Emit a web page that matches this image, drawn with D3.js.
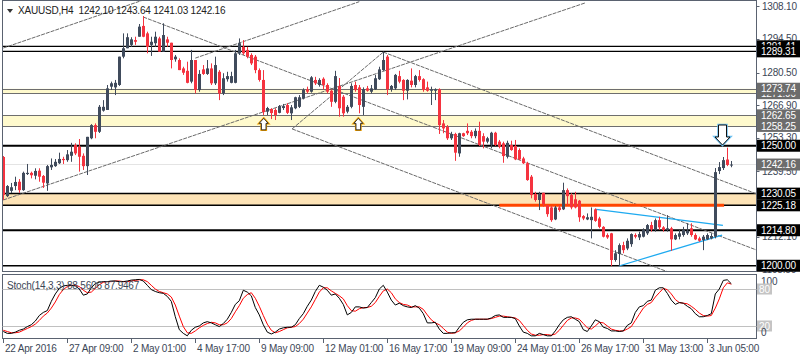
<!DOCTYPE html>
<html><head><meta charset="utf-8">
<script src="https://cdn.jsdelivr.net/npm/d3@7"></script>
<style>
body{margin:0;background:#fff}
svg{display:block}
text{font-family:"Liberation Sans",Arial,sans-serif;white-space:pre}
</style>
</head><body>
<svg id="chart" width="800" height="360"></svg>
<script>
// ---------------- DATA ----------------
const symbolTitle = "XAUUSD,H4  1242.10 1243.64 1241.03 1242.16";
const stochTitle = "Stoch(14,3,3) 88.5606 87.9467";

const openP = [1245.3,1229.0,1231.2,1233.2,1235.0,1231.5,1238.2,1238.7,1237.5,1239.6,
1237.4,1234.3,1241.0,1241.5,1242.7,1244.5,1244.0,1245.8,1250.3,1249.6,
1245.8,1241.5,1253.1,1258.6,1255.8,1264.6,1264.9,1274.6,1274.3,1275.3,
1287.1,1290.6,1292.0,1294.0,1295.4,1299.9,1296.8,1292.0,1292.7,1294.7,
1289.2,1294.3,1292.9,1286.0,1285.7,1282.2,1281.2,1276.7,1285.7,1273.2,
1281.8,1279.9,1282.2,1276.0,1280.8,1271.8,1277.7,1276.2,1276.2,1288.5,
1291.2,1289.9,1287.8,1287.1,1281.5,1277.4,1264.2,1265.3,1264.9,1263.7,
1265.7,1266.95,1263.5,1265.6,1266.2,1269.7,1273.5,1272.5,1277.4,1275.3,
1277.9,1275.3,1272.9,1268.3,1274.9,1270.4,1264.2,1266.2,1275.3,1274.3,
1266.2,1273.9,1272.5,1273.5,1277.7,1281.5,1287.1,1273.5,1273.9,1279.0,
1277.4,1272.9,1277.1,1275.3,1279.0,1277.7,1274.3,1272.9,1272.9,1273.5,
1259.3,1257.9,1253.1,1254.9,1246.8,1255.2,1256.2,1255.8,1254.0,1256.2,
1254.0,1251.7,1250.3,1255.4,1251.7,1251.0,1245.4,1250.3,1249.9,1248.2,
1244.7,1242.7,1237.1,1229.9,1227.4,1230.4,1225.3,1224.3,1219.3,1224.3,
1223.5,1231.5,1229.45,1227.7,1227.1,1220.7,1219.3,1219.0,1223.5,1219.7,
1216.2,1212.8,1213.5,1202.4,1204.9,1208.6,1207.2,1209.0,1212.8,1211.8,
1212.1,1213.5,1216.95,1214.9,1219.0,1216.0,1214.9,1215.6,1211.0,1212.1,
1212.8,1213.5,1215.6,1212.8,1211.4,1210.7,1211.0,1211.4,1212.1,1239.45,
1240.7,1244.25,1242.10];

const highP = [1245.7,1233.6,1234.5,1237.1,1236.1,1239.2,1242.4,1239.2,1240.6,1240.6,
1237.8,1242.0,1244.7,1244.45,1247.1,1245.4,1248.2,1251.2,1251.0,1252.8,
1246.8,1253.7,1259.0,1259.3,1266.95,1269.0,1275.3,1276.7,1277.4,1287.1,
1296.8,1296.8,1295.2,1295.4,1300.7,1304.0,1297.5,1295.4,1297.5,1295.4,
1301.0,1295.4,1292.9,1287.8,1286.4,1282.9,1285.0,1289.9,1285.7,1281.5,
1283.6,1285.7,1284.3,1287.1,1281.5,1280.2,1280.8,1280.8,1289.9,1294.7,
1294.0,1291.2,1288.5,1287.8,1282.2,1281.5,1266.2,1265.6,1265.6,1266.95,
1267.4,1267.7,1266.95,1270.4,1271.1,1273.9,1274.6,1279.0,1278.7,1278.1,
1278.5,1276.0,1273.5,1281.2,1278.2,1271.1,1266.95,1276.0,1276.7,1275.3,
1274.3,1274.9,1275.3,1279.5,1282.9,1289.2,1287.8,1275.3,1279.9,1281.2,
1277.7,1277.7,1282.2,1279.5,1281.5,1278.1,1276.7,1274.6,1273.9,1273.9,
1260.7,1258.6,1255.8,1255.4,1255.4,1255.4,1259.3,1256.5,1257.2,1260.0,
1255.2,1253.7,1255.8,1255.8,1252.4,1251.7,1252.1,1252.1,1252.4,1248.9,
1245.4,1243.3,1237.8,1230.8,1230.8,1230.4,1225.3,1224.9,1224.9,1225.3,
1234.6,1232.2,1230.2,1230.8,1227.4,1221.1,1221.8,1224.3,1223.9,1220.4,
1216.5,1213.5,1213.7,1206.5,1209.3,1210.0,1211.4,1213.5,1213.5,1214.2,
1215.6,1217.4,1218.3,1219.7,1220.4,1216.5,1221.1,1216.2,1213.5,1214.9,
1216.2,1217.7,1217.7,1213.5,1212.1,1212.8,1213.5,1213.5,1240.7,1243.2,
1245.3,1249.2,1243.64];

const lowP = [1227.4,1228.6,1230.3,1231.5,1230.4,1231.2,1237.8,1236.4,1236.0,1235.0,
1232.4,1231.2,1239.9,1241.2,1242.4,1242.4,1243.3,1243.3,1246.1,1239.2,
1239.9,1237.8,1252.7,1253.1,1255.3,1264.2,1264.9,1273.2,1271.1,1274.9,
1286.4,1290.6,1291.2,1292.0,1295.4,1295.2,1288.5,1287.4,1291.2,1289.2,
1289.2,1291.2,1282.2,1285.0,1281.5,1279.5,1276.0,1276.0,1271.8,1272.5,
1279.5,1279.5,1275.3,1275.3,1269.0,1271.1,1276.7,1276.0,1276.0,1287.8,
1287.8,1286.4,1283.6,1280.2,1276.7,1262.8,1262.8,1261.1,1260.7,1263.5,
1264.9,1263.2,1260.7,1265.2,1265.7,1269.3,1271.8,1272.1,1275.3,1274.6,
1273.5,1271.8,1266.2,1267.7,1262.1,1262.1,1263.5,1265.6,1272.5,1263.5,
1262.8,1272.5,1271.8,1273.2,1277.4,1281.2,1271.1,1272.5,1273.2,1276.0,
1269.0,1269.3,1274.3,1274.3,1276.7,1272.5,1272.5,1266.95,1269.0,1254.9,
1255.2,1252.4,1252.4,1243.7,1245.4,1253.7,1254.45,1253.1,1253.1,1249.9,
1248.9,1251.0,1248.9,1249.9,1248.9,1242.9,1244.7,1247.9,1244.0,1244.0,
1242.4,1235.4,1228.1,1226.7,1223.2,1224.6,1220.4,1218.3,1219.0,1222.5,
1223.2,1225.3,1223.5,1223.9,1218.3,1219.0,1219.0,1211.4,1218.3,1215.6,
1211.8,1211.2,1199.9,1201.7,1199.9,1205.2,1206.5,1207.9,1211.4,1210.7,
1211.8,1212.8,1214.2,1214.2,1214.9,1214.2,1214.2,1206.2,1210.7,1211.0,
1212.1,1212.8,1212.1,1210.7,1210.0,1206.5,1210.7,1211.0,1211.4,1238.2,
1239.9,1241.5,1241.03];

const closeP = [1229.45,1233.2,1232.7,1234.9,1231.5,1238.7,1238.7,1237.7,1239.5,1237.1,
1234.6,1241.5,1242.0,1243.3,1244.5,1244.0,1246.4,1247.5,1246.8,1245.4,
1241.5,1253.7,1258.6,1255.8,1266.2,1266.2,1273.9,1276.0,1276.2,1287.1,
1290.6,1295.2,1294.3,1293.3,1299.6,1295.4,1291.2,1293.3,1295.4,1289.2,
1296.1,1292.9,1285.7,1287.1,1281.5,1280.4,1276.2,1285.7,1273.2,1279.9,
1279.9,1282.2,1276.0,1283.6,1271.8,1278.1,1279.0,1279.0,1288.5,1292.7,
1288.5,1287.1,1284.3,1281.5,1277.4,1264.0,1265.7,1263.6,1262.8,1266.5,
1266.5,1263.7,1266.0,1270.2,1270.2,1273.2,1272.5,1278.5,1276.0,1277.4,
1275.3,1272.5,1268.3,1279.0,1265.6,1263.5,1266.2,1274.9,1273.2,1266.95,
1273.5,1272.9,1273.9,1278.1,1281.8,1285.7,1273.5,1274.9,1279.5,1276.7,
1272.9,1277.4,1275.3,1279.0,1277.4,1273.2,1272.9,1273.5,1273.5,1258.6,
1257.2,1253.1,1254.9,1247.1,1255.2,1254.0,1255.2,1254.0,1256.2,1250.3,
1251.7,1253.1,1255.4,1250.3,1249.6,1245.7,1251.2,1248.2,1244.3,1244.3,
1242.7,1235.7,1229.45,1227.4,1229.9,1225.7,1221.5,1219.0,1224.3,1223.2,
1231.5,1229.0,1224.3,1224.3,1220.2,1219.7,1220.2,1220.4,1218.7,1216.2,
1212.1,1211.8,1202.4,1205.2,1208.6,1206.5,1210.4,1213.2,1212.1,1213.2,
1214.9,1216.95,1215.2,1219.0,1216.0,1214.9,1215.6,1211.0,1212.8,1213.5,
1214.9,1214.6,1212.8,1211.0,1210.4,1212.1,1212.8,1212.4,1239.0,1241.1,
1244.0,1242.0,1242.16];

const stochK = [11,8,8,10,13,15,19,22,28,37,42,45,60,72,81,85,86,86,85,80,
70,72,82,89,91,92,92,93,93,92,92,93,94.5,95,95.6,93,86,79,76,74,
73,68,60,35,14,8,4,13,18,20,25,27,25,22,19,24,31,42,55,61,
78,75,69,50,38,22,10,7,10,15,17,18,18,22,32,40,52,62,76,86,
83,78,70,72,65,55,38,42,51,51,49,50,58,66,80,86,75,62,54,57,
53,51,50,53,49,40,25,25,26,15,8,8,9,9,18,26,30,31,31,31,
31,31,33,37,38,34,34,34,32,20,10,8,4,4,8,6,4,4,12,22,
30,34,35,31,27,14,11,20,30,27,18,16,12,12,11,12,21,25,42,51,
53,60,62,78,82,82,73,62,55,58,57,52,48,40,35,35,37,40,72,80,
94,95,88.56];

const stochD = [13,11,9,9,10,13,16,19,23,29,36,41,49,59,71,79,84,86,86,84,
78,74,75,81,87,91,92,92,93,93,92,92,93,94,95,95,92,86,80,76,
74,72,67,54,36,19,9,8,12,17,21,24,26,25,22,22,25,32,43,53,
65,71,74,65,52,37,23,13,9,11,14,17,18,19,24,31,41,51,63,75,
82,82,77,73,69,64,53,45,44,48,50,50,52,58,68,77,80,74,64,58,
55,54,51,51,51,47,38,30,25,22,16,10,8,9,12,18,25,29,31,31,
31,31,32,34,36,36,35,34,33,29,21,13,7,5,5,6,6,5,7,13,
21,29,33,33,31,24,17,15,20,26,25,20,15,13,12,12,15,19,29,39,
49,55,58,67,74,81,79,72,63,58,57,56,52,47,41,37,36,37,49,64,
82,90,87.95];

const timeLabels = ["22 Apr 2016","27 Apr 09:00","2 May 01:00","4 May 17:00","9 May 09:00",
"12 May 01:00","16 May 17:00","19 May 09:00","24 May 01:00","26 May 17:00","31 May 13:00","3 Jun 05:00"];
const timeLabelBars = [0,16,32,48,64,80,96,112,128,144,160,176];

const priceTicks = [1308.10,1294.50,1280.50,1266.90,1253.30,1239.50,1212.10,1198.50];
const stochTicks = [100,80,20,0];

// level objects
const yellowBands = [[1273.74,1271.90],[1262.65,1258.25]];
const orangeBands = [[1230.05,1225.18]];
const blackLevels = [1291.41,1289.31,1250.00,1230.05,1225.18,1214.80,1200.00];
const currentPrice = 1242.16;
const blackBoxLevels = [1291.41,1289.31,1250.00,1230.05,1225.18,1214.80,1200.00];
const greyBoxLevels = [1271.90,1273.74,1262.65,1258.25,1242.16];
const redSegment = [[124,1225.18],[180.2,1225.18]];
// trend lines: [bar1, price1, bar2, price2]
const greyTrendLines = [
  [0,1290.7,35,1310.7],
  [48,1286.5,89,1310.0],
  [0,1227.4,145.4,1309.45],
  [35,1303.6,188.4,1206.5],
  [95,1289.0,188.4,1229.9],
  [72.2,1257.0,170,1195.0],
  [72.2,1257.0,95,1289.0]
];
const blueTrendLines = [
  [148.2,1223.5,179.9,1216.8],
  [153.9,1199.9,179.7,1212.8]
];
const upArrows = [[65.1,1261.4],[88.75,1261.4]];
const downArrows = [[179.8,1250.3]];

// ---------------- DRAW ----------------
const svg = d3.select("#chart");
const nBars = closeP.length;
const x = d3.scaleLinear().domain([0, nBars-1]).range([3.3, 3.3 + 4*(nBars-1)]);
const y = d3.scaleLinear().domain([1197.4, 1310.7]).range([272, 0]);
const ys = d3.scaleLinear().domain([0, 100]).range([338.3, 276.7]);
const L = 2.5, R = 756.5;
const txtCol = "#3b4656";

svg.append("rect").attr("width",800).attr("height",360).attr("fill","#fff");
svg.append("defs").append("clipPath").attr("id","mainClip")
  .append("rect").attr("x",3).attr("y",0).attr("width",753).attr("height",271);
const main = svg.append("g").attr("clip-path","url(#mainClip)");

// bands
yellowBands.forEach(b=>{
  main.append("rect").attr("x",L).attr("width",R-L).attr("y",y(b[0])).attr("height",y(b[1])-y(b[0])).attr("fill","#fffacd");
  b.forEach(v=> main.append("line").attr("x1",L).attr("x2",R).attr("y1",Math.round(y(v))+0.5).attr("y2",Math.round(y(v))+0.5).attr("stroke","#6e6e6e").attr("stroke-width",1));
});
orangeBands.forEach(b=>{
  main.append("rect").attr("x",L).attr("width",R-L).attr("y",y(b[0])).attr("height",y(b[1])-y(b[0])).attr("fill","#fde3b6");
});
// current price line
main.append("line").attr("x1",L).attr("x2",R).attr("y1",y(currentPrice)).attr("y2",y(currentPrice)).attr("stroke","#e4e4e4").attr("stroke-width",1);

// black levels
const levelWidth = {1291.41:1.2,1289.31:1.2,1250:2,1230.05:1.5,1225.18:1.5,1214.8:2,1200:1.5};
blackLevels.forEach(v=>{
  main.append("line").attr("x1",L).attr("x2",R).attr("y1",y(v)).attr("y2",y(v)).attr("stroke","#000").attr("stroke-width",levelWidth[v]||1.5);
});

// trend lines
const tl = main.append("g");
greyTrendLines.forEach(t=>{
  tl.append("line").attr("x1",x(t[0])).attr("y1",y(t[1])).attr("x2",x(t[2])).attr("y2",y(t[3]))
    .attr("stroke","#6a6a6a").attr("stroke-width",1).attr("stroke-dasharray","4,1");
});
blueTrendLines.forEach(t=>{
  tl.append("line").attr("x1",x(t[0])).attr("y1",y(t[1])).attr("x2",x(t[2])).attr("y2",y(t[3]))
    .attr("stroke","#1eaaf0").attr("stroke-width",1.3);
});

// red segment
main.append("line").attr("x1",x(redSegment[0][0])).attr("x2",x(redSegment[1][0]))
  .attr("y1",y(redSegment[0][1])).attr("y2",y(redSegment[1][1])).attr("stroke","#ff4500").attr("stroke-width",3);

// candles
const bull="#404b5c", bear="#f5333f";
const cg = main.append("g");
for(let i=0;i<nBars;i++){
  const o=openP[i], c=closeP[i];
  const hi=Math.max(highP[i],o,c), lo=Math.min(lowP[i],o,c);
  const col = c>=o ? bull : bear;
  const cx = Math.floor(x(i))+0.5;
  cg.append("line").attr("x1",cx).attr("x2",cx).attr("y1",y(hi)).attr("y2",y(lo)).attr("stroke",col).attr("stroke-width",1);
  const top=y(Math.max(o,c)), bot=y(Math.min(o,c));
  cg.append("rect").attr("x",cx-1.5).attr("width",3).attr("y",top).attr("height",Math.max(1,bot-top)).attr("fill",col);
}

// arrows
upArrows.forEach(a=>{
  const px=x(a[0]), py=y(a[1]);
  const p=`M${px},${py} l4.5,5 l-2.2,0 l0,6.5 l-4.6,0 l0,-6.5 l-2.2,0 z`;
  svg.append("path").attr("d",p).attr("fill","#fff").attr("stroke","#f0a000").attr("stroke-width",2.2);
  svg.append("path").attr("d",p).attr("fill","#fff").attr("stroke","#222").attr("stroke-width",0.9);
});
downArrows.forEach(a=>{
  const px=x(a[0]), py=y(a[1]);
  const p=`M${px},${py} l7.5,-8 l-3.5,0 l0,-12 l-8,0 l0,12 l-3.5,0 z`;
  svg.append("path").attr("d",p).attr("fill","#fff").attr("stroke","#6cc0f0").attr("stroke-width",2.5);
  svg.append("path").attr("d",p).attr("fill","#fff").attr("stroke","#111").attr("stroke-width",1);
});

// frames
svg.append("rect").attr("x",L).attr("y",0.5).attr("width",R-L).attr("height",271).attr("fill","none").attr("stroke","#5a6270").attr("stroke-width",1);
svg.append("rect").attr("x",L).attr("y",274.5).attr("width",R-L).attr("height",64).attr("fill","none").attr("stroke","#5a6270").attr("stroke-width",1);

// title
svg.append("path").attr("d","M7,9 L13,9 L10,13 Z").attr("fill","#333");
svg.append("text").attr("x",18).attr("y",14).attr("font-size",10).attr("letter-spacing",-0.2).attr("fill","#222").text(symbolTitle);

// right price axis
priceTicks.forEach(v=>{
  const yy=Math.round(y(v))+0.5;
  svg.append("line").attr("x1",R).attr("x2",R+3).attr("y1",yy).attr("y2",yy).attr("stroke","#5a6270");
  svg.append("text").attr("x",762).attr("y",y(v)+3.6).attr("font-size",10).attr("letter-spacing",-0.2).attr("fill",txtCol).text(v.toFixed(2));
});
function box(v,col){
  const yy=y(v);
  svg.append("rect").attr("x",757).attr("y",yy-6).attr("width",43).attr("height",12).attr("fill",col);
  svg.append("text").attr("x",761).attr("y",yy+3.6).attr("font-size",10).attr("letter-spacing",-0.2).attr("fill","#fff").text(v.toFixed(2));
}
greyBoxLevels.forEach(v=>box(v,"#6c6c6c"));
blackBoxLevels.forEach(v=>box(v,"#000"));

// stochastic panel
[80,20].forEach(v=>{
  svg.append("line").attr("x1",L).attr("x2",R).attr("y1",Math.round(ys(v))+0.5).attr("y2",Math.round(ys(v))+0.5).attr("stroke","#c0c0c0");
});
const sl = d3.line().x((d,i)=>x(i)).y(d=>ys(d));
svg.append("path").attr("d",sl(stochD)).attr("fill","none").attr("stroke","#ff0000").attr("stroke-width",1);
svg.append("path").attr("d",sl(stochK)).attr("fill","none").attr("stroke","#000").attr("stroke-width",1);
svg.append("text").attr("x",7).attr("y",289).attr("font-size",10).attr("letter-spacing",-0.2).attr("fill",txtCol).text(stochTitle);

stochTicks.forEach(v=>{
  const yy = v===100 ? ys(v)+5 : (v===0 ? ys(v)-5.5 : ys(v));
  if(v===80||v===20){
    svg.append("rect").attr("x",757).attr("y",yy-5.5).attr("width",15).attr("height",11).attr("fill","#c4c4c4");
    svg.append("text").attr("x",759).attr("y",yy+3.6).attr("font-size",10).attr("fill","#fff").text(v);
  } else {
    svg.append("text").attr("x",761).attr("y",yy+3.6).attr("font-size",10).attr("fill",txtCol).text(v);
  }
});

// time axis
timeLabelBars.forEach((b,k)=>{
  const xx=Math.floor(x(b))+0.5;
  svg.append("line").attr("x1",xx).attr("x2",xx).attr("y1",339).attr("y2",343).attr("stroke","#5a6270");
  svg.append("text").attr("x",xx+1.5).attr("y",352).attr("font-size",10).attr("letter-spacing",-0.2).attr("fill",txtCol).text(timeLabels[k]);
});
</script>
</body></html>
